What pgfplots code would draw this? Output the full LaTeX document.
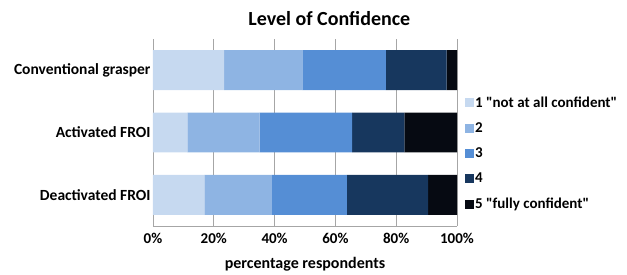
\documentclass[border=0pt]{standalone}
\usepackage{pgfplots}
\pgfplotsset{compat=1.18}
\usepackage{fontspec}
\setmainfont{Carlito}[Ligatures=TeXOff]
\definecolor{c1}{HTML}{C6D9F0}
\definecolor{c2}{HTML}{8EB4E3}
\definecolor{c3}{HTML}{558ED5}
\definecolor{c4}{HTML}{17375E}
\definecolor{c5}{HTML}{060A12}
\definecolor{gridc}{HTML}{A6A6A6}
\begin{document}
\begin{tikzpicture}
\begin{axis}[
  xbar stacked,
  scale only axis,
  width=304bp, height=187bp,
  xmin=0, xmax=100,
  ymin=-0.5, ymax=2.5,
  bar width=0.64,
  xtick={0,20,40,60,80,100},
  xticklabels={0\%,20\%,40\%,60\%,80\%,100\%},
  ytick={0,1,2},
  yticklabels={Deactivated FROI,Activated FROI,Conventional grasper},
  xticklabel style={font=\fontsize{15bp}{18bp}\selectfont\bfseries, yshift=-4bp},
  yticklabel style={font=\fontsize{15.5bp}{18bp}\selectfont\bfseries, xshift=1bp},
  major tick length=0pt,
  axis x line*=bottom,
  axis y line*=left,
  axis line style={gridc, line width=0.8bp},
  xmajorgrids,
  grid style={gridc, line width=0.8bp},
  xlabel={percentage respondents},
  xlabel style={font=\fontsize{16bp}{19bp}\selectfont\bfseries, yshift=-6bp},
  title={Level of Confidence},
  title style={at={(rel axis cs:0.58,1)}, anchor=south, yshift=4bp, font=\fontsize{20bp}{24bp}\selectfont\bfseries},
  legend style={draw=none, fill=none, at={(rel axis cs:1.016,0.388)}, anchor=west,
    font=\fontsize{15bp}{18bp}\selectfont\bfseries, row sep=12bp,
    nodes={inner sep=1bp}},
  legend cell align=left,
  legend image code/.code={\fill[#1] (0bp,-4.5bp) rectangle (9bp,4.5bp);},
]
\addplot[fill=c1, draw=none] coordinates {(16.9,0) (11.3,1) (23.4,2)};
\addplot[fill=c2, draw=none] coordinates {(22.2,0) (23.8,1) (25.7,2)};
\addplot[fill=c3, draw=none] coordinates {(24.7,0) (30.4,1) (27.5,2)};
\addplot[fill=c4, draw=none] coordinates {(26.7,0) (17.2,1) (20.0,2)};
\addplot[fill=c5, draw=none] coordinates {(9.5,0) (17.3,1) (3.4,2)};
\legend{1 "not at all confident",2,3,4,5 "fully confident"}
\end{axis}
\path (-153bp,-45bp) rectangle (474bp,226bp);
\end{tikzpicture}
\end{document}
